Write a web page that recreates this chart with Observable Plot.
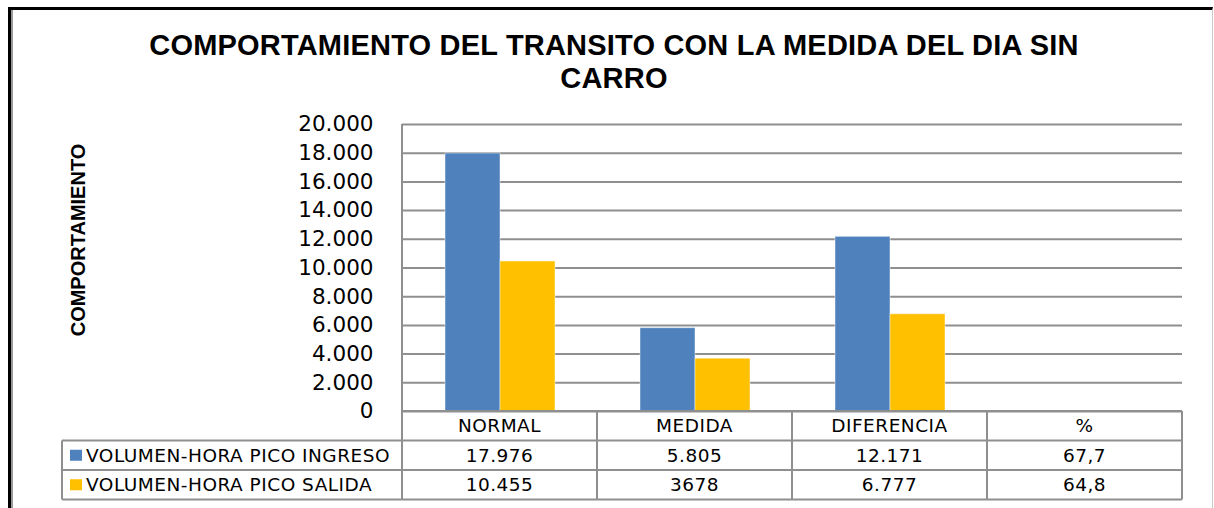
<!DOCTYPE html>
<html><head><meta charset="utf-8">
<script src="https://cdn.jsdelivr.net/npm/d3@7"></script>
<script src="https://cdn.jsdelivr.net/npm/@observablehq/plot@0.6"></script>
<style>
body{margin:0;background:#fff;}
#wrap{position:relative;width:1214px;height:508px;overflow:hidden;background:#fff;}
#frame{position:absolute;left:8px;top:7px;width:1205px;height:520px;border-top:3px solid #000;border-left:3px solid #000;border-right:1px solid #c8c8c8;box-sizing:border-box;}
#inner{position:absolute;left:11px;top:10px;width:2px;height:510px;background:#9a9a9a;}
.title{position:absolute;left:0;width:1228px;height:30px;text-align:center;font:700 29px "Liberation Sans";letter-spacing:0.2px;line-height:30px;color:#000;white-space:nowrap;}
#t1{top:30px;}
#t2{top:63px;}
#ylab{position:absolute;left:78px;top:240px;transform:translate(-50%,-50%) rotate(-90deg);white-space:nowrap;font:700 20px "Liberation Sans";color:#000;}
#chart{position:absolute;left:0;top:0;}
</style>
</head><body>
<div id="wrap">
  <div id="frame"></div>
  <div id="inner"></div>
  <div id="chart"></div>
  <div class="title" id="t1">COMPORTAMIENTO DEL TRANSITO CON LA MEDIDA DEL DIA SIN</div>
  <div class="title" id="t2">CARRO</div>
  <div id="ylab">COMPORTAMIENTO</div>
</div>
<script>
const categories = ["NORMAL", "MEDIDA", "DIFERENCIA", "%"];
const seriesNames = ["VOLUMEN-HORA PICO INGRESO", "VOLUMEN-HORA PICO SALIDA"];
const ingreso = [17976, 5805, 12171, null];
const salida = [10455, 3678, 6777, null];
const ingresoLabels = ["17.976", "5.805", "12.171", "67,7"];
const salidaLabels = ["10.455", "3678", "6.777", "64,8"];
const yTicks = [0, 2000, 4000, 6000, 8000, 10000, 12000, 14000, 16000, 18000, 20000];
const colors = ["#4F81BD", "#FFC000"];

const locale = d3.formatLocale({decimal: ",", thousands: ".", grouping: [3], currency: ["", ""]});
const fmt = locale.format(",");

const data = categories.flatMap((c, i) => [
  {cat: c, serie: seriesNames[0], value: ingreso[i]},
  {cat: c, serie: seriesNames[1], value: salida[i]}
]);

const chart = Plot.plot({
  width: 1214, height: 508,
  marginTop: 124, marginLeft: 402, marginRight: 32, marginBottom: 97,
  style: {fontFamily: "DejaVu Sans", background: "transparent", color: "#000"},
  fx: {domain: categories, padding: 0, axis: null, label: null},
  x: {domain: seriesNames, paddingInner: 0, paddingOuter: 0.75, axis: null},
  y: {domain: [0, 20000], label: null},
  color: {domain: seriesNames, range: colors},
  marks: [
    Plot.gridY(yTicks, {stroke: "#8f8f8f", strokeOpacity: 1, strokeWidth: 2}),
    Plot.axisY(yTicks, {tickSize: 0, tickPadding: 29, fontSize: 21.5, tickFormat: fmt, label: null, fill: "#000"}),
    Plot.barY(data, {fx: "cat", x: "serie", y: "value", fill: "serie", stroke: "#fff", strokeOpacity: 0.45, strokeWidth: 1})
  ]
});
document.getElementById("chart").appendChild(chart);

// data table under the plot, positioned with Plot's own scales
const svg = d3.select(chart);
const fxs = chart.scale("fx");
const ys = chart.scale("y");
const y0 = ys.apply(0);
const yTop = ys.apply(20000);
const bw = fxs.bandwidth;
const left = fxs.apply(categories[0]);
const right = fxs.apply(categories[categories.length - 1]) + bw;
const rowH = 29.5;
const legLeft = 62;
const g = svg.append("g").attr("stroke", "#8f8f8f").attr("stroke-width", 2);
const hl = (x1, x2, y) => g.append("line").attr("x1", x1).attr("x2", x2).attr("y1", y).attr("y2", y);
const vl = (x, y1, y2) => g.append("line").attr("x1", x).attr("x2", x).attr("y1", y1).attr("y2", y2);
hl(left, right, y0);
hl(legLeft, right, y0 + rowH);
hl(legLeft, right, y0 + 2 * rowH);
hl(legLeft, right, y0 + 3 * rowH);
vl(left, yTop, y0 + 3 * rowH);
vl(legLeft, y0 + rowH, y0 + 3 * rowH);
categories.forEach(c => vl(fxs.apply(c) + bw, y0, y0 + 3 * rowH));

const t = svg.append("g").attr("font-family", "DejaVu Sans").attr("font-size", 18.5).attr("letter-spacing", "0.5px").attr("fill", "#000");
categories.forEach((c, i) => {
  const cx = fxs.apply(c) + bw / 2;
  t.append("text").attr("x", cx).attr("y", y0 + rowH / 2).attr("text-anchor", "middle").attr("dy", "0.35em").text(c);
  t.append("text").attr("x", cx).attr("y", y0 + 1.5 * rowH).attr("text-anchor", "middle").attr("dy", "0.35em").text(ingresoLabels[i]);
  t.append("text").attr("x", cx).attr("y", y0 + 2.5 * rowH).attr("text-anchor", "middle").attr("dy", "0.35em").text(salidaLabels[i]);
});
seriesNames.forEach((s, i) => {
  const cy = y0 + (1.5 + i) * rowH;
  svg.append("rect").attr("x", 70).attr("y", cy - 5.5).attr("width", 12).attr("height", 11).attr("fill", colors[i]);
  t.append("text").attr("x", 86).attr("y", cy).attr("text-anchor", "start").attr("dy", "0.35em").text(s);
});
</script>
</body></html>
